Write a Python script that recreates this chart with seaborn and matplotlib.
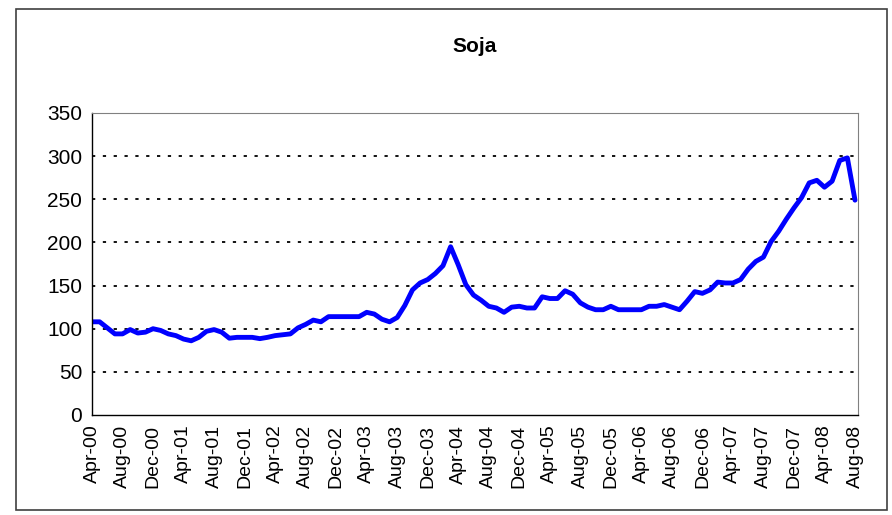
import numpy as np
import pandas as pd
import matplotlib
matplotlib.use("Agg")
import matplotlib.pyplot as plt
from matplotlib.patches import Rectangle
import seaborn as sns

# ---- data ----
title = "Soja"
start_month = "2000-04"
values = [108, 108, 101, 94, 94, 99, 95, 96, 100, 98,
          94, 92, 88, 86, 90, 97, 99, 96, 89, 90,
          90, 90, 88.5, 90, 92, 93, 94, 101, 105, 110,
          108, 114, 114, 114, 114, 114, 119, 117, 111, 108,
          113, 127, 145, 153, 157, 164, 173, 195, 174, 151,
          139, 133, 126, 124, 119, 125, 126, 124, 124, 137,
          135, 135, 144, 140, 130, 125, 122, 122, 126, 122,
          122, 122, 122, 126, 126, 128, 125, 122, 132, 143,
          141, 145, 154, 153, 153, 157, 169, 178, 183, 201,
          213, 227, 240, 252, 269, 272, 264, 271, 295, 298,
          249]
y_ticks = [0, 50, 100, 150, 200, 250, 300, 350]
label_every = 4

dates = pd.date_range(start_month, periods=len(values), freq="MS")
df = pd.DataFrame({"idx": np.arange(len(values)), "value": values})
tick_idx = list(range(0, len(values), label_every))
tick_labels = [dates[i].strftime("%b-%y") for i in tick_idx]

sns.set_style("white")
plt.rcParams["font.family"] = ["Liberation Sans", "DejaVu Sans"]
plt.rcParams["text.color"] = "black"
plt.rcParams["xtick.color"] = "black"
plt.rcParams["ytick.color"] = "black"

W, H = 892, 515
fig = plt.figure(figsize=(W / 100, H / 100), dpi=100)
fig.patch.set_facecolor("white")

L, R, T, B = 92, 858, 113, 415
ax = fig.add_axes([L / W, (H - B) / H, (R - L) / W, (B - T) / H])

sns.lineplot(data=df, x="idx", y="value", ax=ax, color="#0000FF",
             linewidth=3.5, legend=False)

ax.set_xlim(0, 100 + 3 / 7.63)
ax.set_ylim(0, 350)
ax.set_yticks(y_ticks)
ax.set_yticklabels([str(v) for v in y_ticks], fontsize=15, color="black")
ax.set_xticks(tick_idx)
ax.set_xticklabels(tick_labels, rotation=90, fontsize=14, color="black")
ax.set_xlabel("")
ax.set_ylabel("")

for v in y_ticks[1:]:
    ax.axhline(v, color="#000000", linewidth=1.3,
               linestyle=(0, (1.8, 4.2)), zorder=1)

for side in ["left", "bottom"]:
    ax.spines[side].set_color("black")
    ax.spines[side].set_linewidth(1.0)
for side in ["top", "right"]:
    ax.spines[side].set_color("#808080")
    ax.spines[side].set_linewidth(0.8)

ax.tick_params(axis="both", which="major", direction="out", length=4,
               width=0.8, color="black")
ax.tick_params(axis="y", pad=3)
ax.tick_params(axis="x", pad=3)

fig.text((L + R) / 2 / W, 1 - 47 / H, title, ha="center", va="center",
         fontsize=15, fontweight="bold", color="black")

fig.add_artist(Rectangle((16 / W, 1 - 510 / H), (887 - 16) / W, (510 - 9) / H,
                         transform=fig.transFigure, fill=False,
                         edgecolor="#404040", linewidth=1.2))

fig.savefig("out.png", dpi=100)
